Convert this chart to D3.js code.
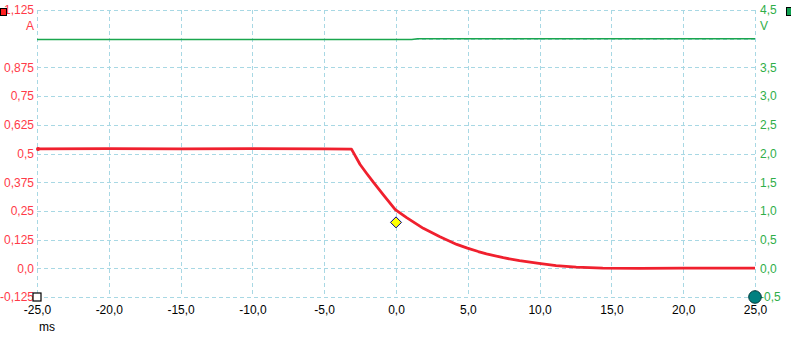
<!DOCTYPE html>
<html><head><meta charset="utf-8">
<script src="https://cdn.jsdelivr.net/npm/d3@7"></script>
<style>
body{margin:0;background:#fff;}
svg{display:block;}
text{font-family:"Liberation Sans",Arial,sans-serif;font-size:12px;}
</style></head>
<body>
<script>
// ---- data ----
const xTicks = [-25,-20,-15,-10,-5,0,5,10,15,20,25];
const xTickLabels = ["-25,0","-20,0","-15,0","-10,0","-5,0","0,0","5,0","10,0","15,0","20,0","25,0"];
const leftTicks = [1.125,1.0,0.875,0.75,0.625,0.5,0.375,0.25,0.125,0.0,-0.125];
const leftTickLabels = ["1,125","A","0,875","0,75","0,625","0,5","0,375","0,25","0,125","0,0","-0,125"];
const rightTicks = [4.5,4.0,3.5,3.0,2.5,2.0,1.5,1.0,0.5,0.0,-0.5];
const rightTickLabels = ["4,5","V","3,5","3,0","2,5","2,0","1,5","1,0","0,5","0,0","-0,5"];
const xUnit = "ms";

// current trace (A) vs time (ms)
const currentTime = [-25,-20,-15,-10,-5,-3.1,-2.5,-2.04,-1.58,-0.88,-0.05,0.74,1.9,3.06,4.23,4.97,5.73,6.3,7.47,8.6,9.95,11.15,12.55,14.4,17,20,25];
const currentVal  = [0.52,0.521,0.52,0.521,0.52,0.519,0.452,0.413,0.375,0.320,0.256,0.221,0.174,0.137,0.104,0.088,0.073,0.063,0.046,0.033,0.021,0.012,0.005,0.001,0.0,0.001,0.001];

// voltage trace (V) vs time (ms)
const voltageTime = [-25,1.1,1.5,25];
const voltageVal  = [3.985,3.985,4.0,4.0];

// marker
const markerTime = [0];
const markerVal  = [0.2];

// ---- layout ----
const W=791,H=337;
const L=37,R=755,T=10,B=297;
const svg=d3.select("body").append("svg").attr("width",W).attr("height",H);

const x=d3.scaleLinear().domain([-25,25]).range([L,R]);
const yL=d3.scaleLinear().domain([-0.125,1.125]).range([B,T]);
const yR=d3.scaleLinear().domain([-0.5,4.5]).range([B,T]);

// grid
const grid=svg.append("g").attr("stroke","#a8d8e4").attr("stroke-width",1).attr("stroke-dasharray","4,3").attr("fill","none");
xTicks.forEach(t=>grid.append("line").attr("x1",Math.round(x(t))+0.5).attr("x2",Math.round(x(t))+0.5).attr("y1",T).attr("y2",B));
leftTicks.forEach(t=>grid.append("line").attr("y1",Math.round(yL(t))+0.5).attr("y2",Math.round(yL(t))+0.5).attr("x1",L).attr("x2",R));

// axes
const xAxis=d3.axisBottom(x).tickValues(xTicks).tickSize(0).tickPadding(8).tickFormat((d,i)=>xTickLabels[i]);
const gx=svg.append("g").attr("transform",`translate(0,${B})`).call(xAxis);
gx.select(".domain").remove();
gx.selectAll("text").attr("fill","#000").style("font-size","12px").style("font-family","Liberation Sans, Arial");

const lAxis=d3.axisLeft(yL).tickValues(leftTicks).tickSize(0).tickPadding(3).tickFormat((d,i)=>leftTickLabels[i]);
const gl=svg.append("g").attr("transform",`translate(${L},0)`).call(lAxis);
gl.select(".domain").remove();
gl.selectAll("text").attr("fill","#ff3a48").style("font-size","12px").style("font-family","Liberation Sans, Arial")
  .attr("dy",(d,i)=>leftTickLabels[i]==="A"?"-0.75em":"0.32em");

const rAxis=d3.axisRight(yR).tickValues(rightTicks).tickSize(0).tickPadding(5).tickFormat((d,i)=>rightTickLabels[i]);
const gr=svg.append("g").attr("transform",`translate(${R},0)`).call(rAxis);
gr.select(".domain").remove();
gr.selectAll("text").attr("fill","#2fae48").style("font-size","12px").style("font-family","Liberation Sans, Arial")
  .attr("dy",(d,i)=>rightTickLabels[i]==="V"?"-0.75em":"0.32em");

svg.append("text").attr("x",L+2).attr("y",331).attr("fill","#000").text(xUnit);

// voltage line
const vData=voltageTime.map((t,i)=>[t,voltageVal[i]]);
svg.append("path").datum(vData).attr("fill","none").attr("stroke","#1aa64e").attr("stroke-width",1.5)
  .attr("d",d3.line().x(d=>x(d[0])).y(d=>yR(d[1])));

// current line
const cData=currentTime.map((t,i)=>[t,currentVal[i]]);
svg.append("path").datum(cData).attr("fill","none").attr("stroke","#f0202e").attr("stroke-width",2.8)
  .attr("stroke-linejoin","round")
  .attr("d",d3.line().x(d=>x(d[0])).y(d=>yL(d[1])));
svg.append("circle").attr("cx",x(currentTime[0])+1).attr("cy",yL(currentVal[0])).attr("r",2).attr("fill","#f0202e");

// marker diamond
markerTime.forEach((t,i)=>{
  const cx=x(t),cy=yL(markerVal[i]);
  svg.append("path").attr("d",`M${cx},${cy-5.5}L${cx+5.5},${cy}L${cx},${cy+5.5}L${cx-5.5},${cy}Z`)
    .attr("fill","#ffff00").attr("stroke","#00008b").attr("stroke-width",1);
});

// axis legend squares
svg.append("rect").attr("x",0.5).attr("y",8.5).attr("width",6).attr("height",7).attr("fill","#ff2020").attr("stroke","#000");
svg.append("rect").attr("x",786.5).attr("y",7.5).attr("width",5).attr("height",8).attr("fill","#10a050").attr("stroke","#000");

// cursor markers
svg.append("rect").attr("x",x(-25)-4).attr("y",yL(-0.125)-4).attr("width",8).attr("height",8).attr("fill","#fff").attr("stroke","#000").attr("stroke-width",1.2);
svg.append("circle").attr("cx",x(25)).attr("cy",yR(-0.5)).attr("r",6.3).attr("fill","#008080").attr("stroke","#003a3a").attr("stroke-width",1);
</script>
</body></html>
